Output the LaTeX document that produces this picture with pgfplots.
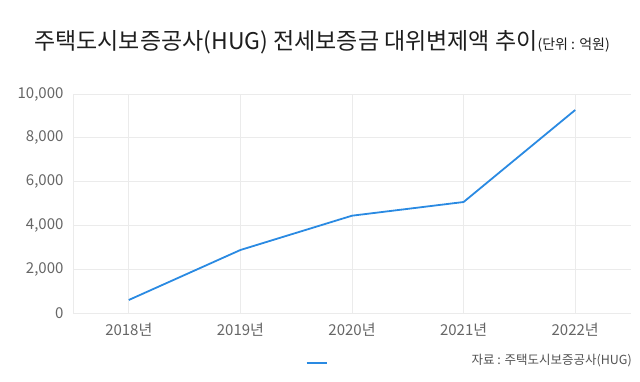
\documentclass[border=0pt]{standalone}
\usepackage{pgfplots}
\pgfplotsset{compat=1.18}
\usepackage{fontspec}
\setmainfont{Noto Sans CJK KR}
\definecolor{lineblue}{HTML}{2A8AE2}
\definecolor{gridc}{HTML}{EBEBEB}
\definecolor{tickc}{HTML}{666666}
\definecolor{titlec}{HTML}{1E1E1E}
\begin{document}
\begin{tikzpicture}
\path[use as bounding box] (0pt,0pt) rectangle (640pt,382pt);
\begin{axis}[
  at={(73pt,69pt)}, anchor=south west,
  scale only axis, width=558pt, height=219pt,
  xmin=-0.5, xmax=4.5, ymin=0, ymax=10000,
  xtick={0,1,2,3,4},
  xticklabels={2018년,2019년,2020년,2021년,2022년},
  ytick={0,2000,4000,6000,8000,10000},
  scaled y ticks=false,
  /pgf/number format/.cd, 1000 sep={,}, assume math mode=true, /pgfplots/.cd,
  axis lines=left,
  axis line style={color=gridc, -},
  major tick length=0pt,
  grid=major,
  major grid style={color=gridc, line width=0.8pt},
  tick label style={color=tickc, font=\fontsize{15}{18}\selectfont},
  yticklabel style={xshift=-6pt},
  xticklabel style={yshift=-7pt},
  legend style={draw=none, fill=none, inner sep=0pt, at={(0.416,-0.228)}, anchor=west},
  legend image code/.code={\draw[line width=2.6pt, lineblue] (0pt,0pt) -- (20pt,0pt);},
]
\addplot[lineblue, line width=1.8pt, line join=round] coordinates {
  (0,594) (1,2877) (2,4443) (3,5068) (4,9270)
};
\addlegendentry{}
\end{axis}
\node[anchor=base, color=titlec, inner sep=0pt] at (322pt,332pt)
  {{\fontsize{23}{26}\selectfont 주택도시보증공사(HUG) 전세보증금 대위변제액 추이}{\fontsize{14}{16}\selectfont (단위 : 억원)}};
\node[anchor=base east, color=tickc!80!black, inner sep=0pt] at (632pt,17pt)
  {\fontsize{12.5}{15}\selectfont 자료 : 주택도시보증공사(HUG)};
\end{tikzpicture}
\end{document}
